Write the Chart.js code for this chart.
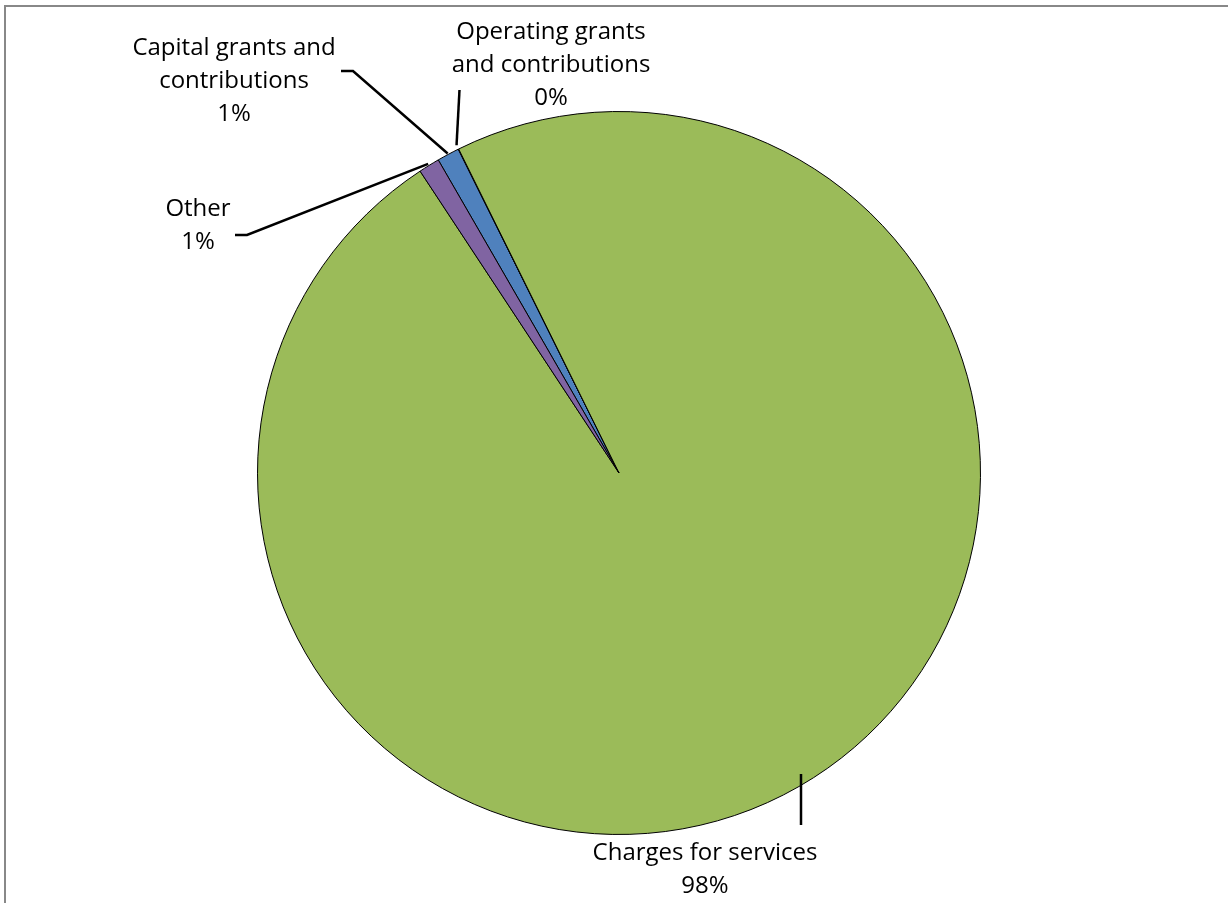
<!DOCTYPE html>
<html>
<head>
<meta charset="utf-8">
<script src="https://cdn.jsdelivr.net/npm/chart.js@4/dist/chart.umd.min.js"></script>
<style>
html,body{margin:0;padding:0;background:#fff;}
canvas{display:block;}
</style>
</head>
<body>
<canvas id="c" width="1228" height="903"></canvas>
<script>
// ---- data ----
const categories = ["Capital grants and contributions", "Operating grants and contributions", "Charges for services", "Other"];
const values = [1.0, 0.02, 98.06, 0.94];
const percentLabels = ["1%", "0%", "98%", "1%"];
const labelLines = [
  ["Capital grants and", "contributions", "1%"],
  ["Operating grants", "and contributions", "0%"],
  ["Charges for services", "98%"],
  ["Other", "1%"]
];
const colors = ["#4F81BD", "#C0504D", "#9BBB59", "#8064A2"];

// ---- label layout (annotation positions) ----
const labelLayout = [
  {cx: 234, cy: 48, elbow: [[353, 71], [341, 71]], r: 1.003},
  {cx: 551, cy: 32, elbow: [[459.5, 90]], r: 1.012},
  {cx: 705, cy: 853, elbow: [[801, 825]], r: 0.96, vertical: true},
  {cx: 198, cy: 209, elbow: [[247, 235], [235, 235]], r: 1.005}
];
const lineHeight = 33;
const FONT = '24px "Open Sans", Lato, sans-serif';

const frame = {
  id: 'frame',
  beforeDraw(chart) {
    const ctx = chart.ctx;
    ctx.save();
    ctx.fillStyle = '#fff';
    ctx.fillRect(0, 0, chart.width, chart.height);
    ctx.strokeStyle = '#888888';
    ctx.lineWidth = 2;
    ctx.strokeRect(5, 6, chart.width + 20, chart.height + 20);
    ctx.restore();
  }
};

const pieLabels = {
  id: 'pieLabels',
  afterDraw(chart) {
    const ctx = chart.ctx;
    const arcs = chart.getDatasetMeta(0).data;
    ctx.save();
    arcs.forEach((arc, i) => {
      const lay = labelLayout[i];
      const mid = (arc.startAngle + arc.endAngle) / 2;
      const rr = arc.outerRadius * lay.r;
      let sx = arc.x + rr * Math.cos(mid);
      let sy = arc.y + rr * Math.sin(mid);
      if (lay.vertical) sx = lay.elbow[0][0];
      ctx.beginPath();
      ctx.strokeStyle = '#000';
      ctx.lineWidth = 2.5;
      ctx.moveTo(sx, sy);
      lay.elbow.forEach(p => ctx.lineTo(p[0], p[1]));
      ctx.stroke();

      ctx.fillStyle = '#000';
      ctx.font = FONT;
      ctx.textAlign = 'center';
      ctx.textBaseline = 'middle';
      labelLines[i].forEach((t, k) => {
        ctx.fillText(t, lay.cx, lay.cy + k * lineHeight);
      });
    });
    ctx.restore();
  }
};

new Chart(document.getElementById('c'), {
  type: 'pie',
  data: {
    labels: categories,
    datasets: [{
      data: values,
      backgroundColor: colors,
      borderColor: '#000',
      borderWidth: 1
    }]
  },
  options: {
    responsive: false,
    animation: false,
    rotation: 330.0,
    layout: {padding: {left: 257, right: 247, top: 111, bottom: 68}},
    plugins: {legend: {display: false}, tooltip: {enabled: false}}
  },
  plugins: [frame, pieLabels]
});
</script>
</body>
</html>
